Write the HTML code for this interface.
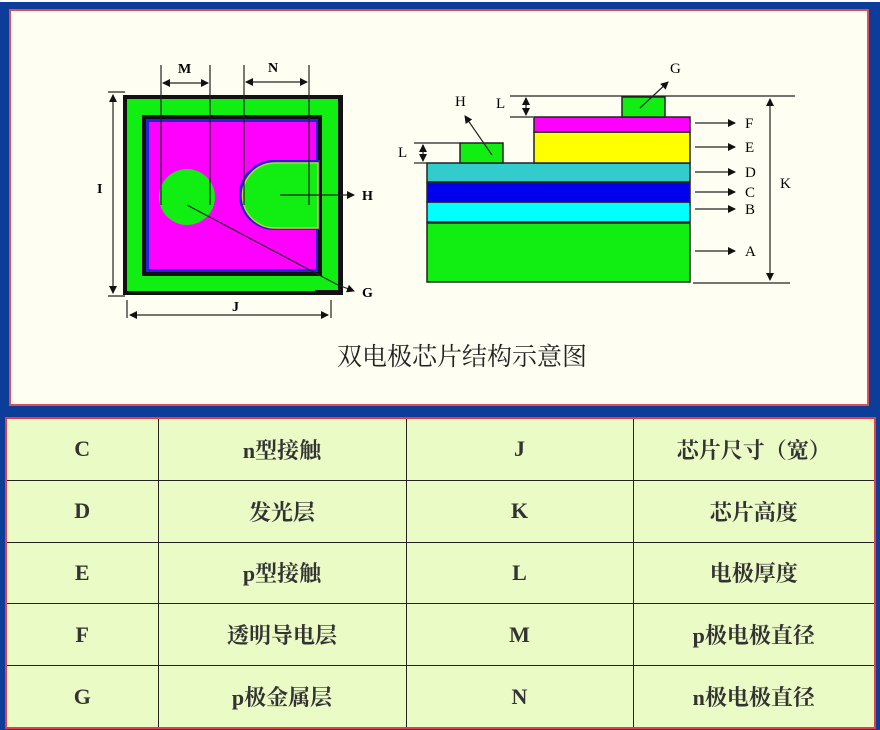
<!DOCTYPE html>
<html><head><meta charset="utf-8"><style>
html,body{margin:0;padding:0;}
body{width:880px;height:730px;overflow:hidden;background:#fff;position:relative;font-family:"Liberation Serif","Noto Serif CJK SC",serif;}
#bg{position:absolute;left:0;top:2px;width:880px;height:728px;background:#0b3d99;}
#panel{position:absolute;left:9px;top:9px;width:860px;height:397px;background:#fefef2;border:2px solid #d8505a;box-sizing:border-box;}
#tbl{position:absolute;left:5px;top:417px;width:871px;height:312px;background:#ebfbc6;border:2px solid #e0404a;box-sizing:border-box;}
table{border-collapse:collapse;width:100%;height:100%;table-layout:fixed;}
td{border:1.5px solid #222;text-align:center;font-size:22px;color:#333;font-weight:bold;}
tr:first-child td{border-top:none;} tr:last-child td{border-bottom:none;}
td:first-child{border-left:none;} td:last-child{border-right:none;}
svg{position:absolute;left:0;top:0;}
</style></head><body>
<div id="bg"></div>
<div id="panel"></div>
<svg width="880" height="410" font-family="Liberation Serif, serif" font-size="14" font-weight="bold">
<defs><marker id="a" markerWidth="8" markerHeight="8" refX="7" refY="4" orient="auto" markerUnits="userSpaceOnUse"><path d="M0,0 L8,4 L0,8z" fill="#111"/></marker>
<marker id="b" markerWidth="8" markerHeight="8" refX="1" refY="4" orient="auto" markerUnits="userSpaceOnUse"><path d="M8,0 L0,4 L8,8z" fill="#111"/></marker></defs>
<rect x="123" y="95" width="220" height="200" fill="#111"/>
<rect x="127" y="99" width="211" height="192" fill="#11ee11"/>
<rect x="142" y="115" width="180" height="161" fill="#111"/>
<rect x="146" y="119" width="172" height="153" fill="#2222dd"/>
<rect x="149" y="122" width="167" height="147" fill="#ff00ff"/>
<path d="M274,160 L320,160 L320,230 L274,230 A35,35 0 0 1 274,160z" fill="#2222cc"/>
<path d="M275,163 L318,163 L318,228 L275,228 A32.5,32.5 0 0 1 275,163z" fill="#11ee11" stroke="#cccc33" stroke-width="1.5"/>
<circle cx="187" cy="197" r="28" fill="#11ee11"/>
<path d="M315,290 L338,290 L338,270 L342,270 L342,295 L315,295z" fill="#111"/>
<g stroke="#222" stroke-width="1.2" fill="none">
<line x1="161" y1="65" x2="161" y2="205"/><line x1="210" y1="65" x2="210" y2="205"/>
<line x1="244" y1="65" x2="244" y2="205"/><line x1="309" y1="65" x2="309" y2="205"/>
<line x1="163" y1="83" x2="208" y2="83" marker-start="url(#b)" marker-end="url(#a)"/>
<line x1="246" y1="82" x2="307" y2="82" marker-start="url(#b)" marker-end="url(#a)"/>
<line x1="108" y1="92" x2="125" y2="92"/><line x1="108" y1="296" x2="125" y2="296"/>
<line x1="113" y1="95" x2="113" y2="293" marker-start="url(#b)" marker-end="url(#a)"/>
<line x1="127" y1="300" x2="127" y2="318"/><line x1="331" y1="300" x2="331" y2="318"/>
<line x1="130" y1="315" x2="328" y2="315" marker-start="url(#b)" marker-end="url(#a)"/>
<line x1="280" y1="195" x2="354" y2="195" marker-end="url(#a)"/>
<line x1="187" y1="205" x2="338" y2="285"/>
<line x1="338" y1="285" x2="354" y2="291" marker-end="url(#a)"/>
</g>
<text x="178" y="73">M</text><text x="268" y="72">N</text><text x="97" y="193">I</text>
<text x="232" y="311">J</text><text x="362" y="200">H</text><text x="362" y="297">G</text>
<g stroke="#222" stroke-width="1.5">
<rect x="427" y="223" width="263" height="59" fill="#11ee11"/>
<rect x="427" y="202" width="263" height="20" fill="#00ffff"/>
<rect x="427" y="183" width="263" height="19" fill="#0000ee"/>
<rect x="427" y="163" width="263" height="19" fill="#33cccc"/>
<rect x="534" y="132" width="156" height="31" fill="#ffff00"/>
<rect x="534" y="117" width="156" height="15" fill="#ff00ff"/>
<rect x="622" y="97" width="43" height="20" fill="#11ee11"/>
<rect x="460" y="143" width="43" height="20" fill="#11ee11"/>
</g>
<g stroke="#222" stroke-width="1.2" fill="none">
<line x1="510" y1="96" x2="795" y2="96"/><line x1="510" y1="117" x2="533" y2="117"/>
<line x1="526" y1="98" x2="526" y2="115" marker-start="url(#b)" marker-end="url(#a)"/>
<line x1="414" y1="143" x2="460" y2="143"/><line x1="414" y1="163" x2="427" y2="163"/>
<line x1="423" y1="145" x2="423" y2="161" marker-start="url(#b)" marker-end="url(#a)"/>
<line x1="693" y1="283" x2="790" y2="283"/>
<line x1="770" y1="99" x2="770" y2="280" marker-start="url(#b)" marker-end="url(#a)"/>
<line x1="640" y1="108" x2="668" y2="82" marker-end="url(#a)"/>
<line x1="492" y1="155" x2="465" y2="116" marker-end="url(#a)"/>
<line x1="695" y1="123" x2="735" y2="123" marker-end="url(#a)"/>
<line x1="695" y1="147" x2="735" y2="147" marker-end="url(#a)"/>
<line x1="695" y1="172" x2="735" y2="172" marker-end="url(#a)"/>
<line x1="695" y1="192" x2="735" y2="192" marker-end="url(#a)"/>
<line x1="695" y1="209" x2="735" y2="209" marker-end="url(#a)"/>
<line x1="695" y1="251" x2="735" y2="251" marker-end="url(#a)"/>
</g>
<g font-weight="normal" font-size="15">
<text x="670" y="73">G</text><text x="455" y="106">H</text><text x="496" y="108">L</text><text x="398" y="157">L</text>
<text x="745" y="128">F</text><text x="745" y="152">E</text><text x="745" y="177">D</text>
<text x="745" y="197">C</text><text x="745" y="214">B</text><text x="745" y="256">A</text><text x="780" y="188">K</text>
</g>
<text x="462" y="365" font-size="25" font-weight="normal" text-anchor="middle" font-family="Noto Serif CJK SC, serif" fill="#222">双电极芯片结构示意图</text>
</svg>
<div id="tbl"><table>
<colgroup><col style="width:151px"><col style="width:248px"><col style="width:227px"><col></colgroup>
<tr><td>C</td><td>n型接触</td><td>J</td><td>芯片尺寸（宽）</td></tr>
<tr><td>D</td><td>发光层</td><td>K</td><td>芯片高度</td></tr>
<tr><td>E</td><td>p型接触</td><td>L</td><td>电极厚度</td></tr>
<tr><td>F</td><td>透明导电层</td><td>M</td><td>p极电极直径</td></tr>
<tr><td>G</td><td>p极金属层</td><td>N</td><td>n极电极直径</td></tr>
</table></div>
</body></html>
